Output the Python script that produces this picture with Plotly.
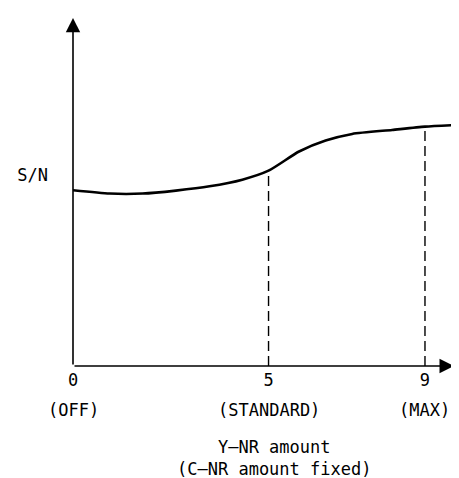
import plotly.graph_objects as go

# Data (S/N in arbitrary units)
x_amount = [0, 0.94, 1.78, 2.63, 3.49, 4.33, 5, 5.78, 6.46, 7.14, 8.16, 9, 9.82]
sn_value = [176.7, 173.4, 173.4, 176.4, 180.7, 187.4, 196.4, 215.7, 226.7, 233.4, 237.4, 240.7, 242.4]
tick_vals = [0, 5, 9]
tick_nums = ["0", "5", "9"]
tick_names = ["(OFF)", "(STANDARD)", "(MAX)"]
marked_points = [5, 9]
x_title = "Y\u2014NR amount<br>(C\u2014NR amount fixed)"
y_label = "S/N"
y_label_level = 192.5

X_MAX = 9.87
X_ARROW = 9.74
Y_MAX = 356
Y_ARROW = 350

FONT = "DejaVu Sans Mono"
# page body has an 8px margin, so the figure is drawn 8px in from the window corner
W, H = 451, 470
M_L, M_R, M_T, M_B = 65, 0, 4, 112
PLOT_H = H - M_T - M_B
PLOT_BOTTOM_WIN = 8 + H - M_B


def paper_y(py_window):
    return (PLOT_BOTTOM_WIN - py_window) / PLOT_H


fig = go.Figure()

# dashed drop lines from the curve at marked points
for xm in marked_points:
    yv = sn_value[x_amount.index(xm)]
    fig.add_trace(go.Scatter(x=[xm, xm], y=[0, yv], mode="lines",
                             line=dict(color="black", width=1.4, dash="10px,5px"),
                             hoverinfo="skip", showlegend=False))

fig.add_trace(go.Scatter(x=x_amount, y=sn_value, mode="lines",
                         line=dict(color="black", width=2.6, shape="spline", smoothing=0.6),
                         showlegend=False))

# axis arrows
fig.add_annotation(x=X_ARROW, y=0, ax=0, ay=0, xref="x", yref="y", axref="x", ayref="y",
                   showarrow=True, arrowhead=2, arrowwidth=1.6, arrowsize=1.8,
                   arrowcolor="black", text="")
fig.add_annotation(x=0, y=Y_ARROW, ax=0, ay=0, xref="x", yref="y", axref="x", ayref="y",
                   showarrow=True, arrowhead=2, arrowwidth=1.6, arrowsize=1.8,
                   arrowcolor="black", text="")

# second line of tick labels
for xv, name in zip(tick_vals, tick_names):
    fig.add_annotation(x=xv, y=paper_y(410), xref="x", yref="paper", text=name,
                       showarrow=False, font=dict(family=FONT, size=17, color="black"),
                       xanchor="center", yanchor="middle")

# axis title
fig.add_annotation(x=0.52, y=paper_y(458), xref="paper", yref="paper", text=x_title,
                   showarrow=False, font=dict(family=FONT, size=17, color="black"),
                   xanchor="center", yanchor="middle")

fig.update_layout(
    width=W, height=H,
    margin=dict(l=M_L, r=M_R, t=M_T, b=M_B),
    paper_bgcolor="white", plot_bgcolor="white",
    font=dict(family=FONT, size=17, color="black"),
    xaxis=dict(range=[0, X_MAX], showgrid=False, zeroline=False, showline=False,
               tickvals=tick_vals, ticktext=tick_nums, ticks="",
               ticklabelstandoff=2, automargin=False),
    yaxis=dict(range=[0, Y_MAX], showgrid=False, zeroline=False, showline=False,
               tickvals=[y_label_level], ticktext=[y_label], ticks="",
               ticklabelstandoff=24, automargin=False),
)

fig.write_html("out.html")
